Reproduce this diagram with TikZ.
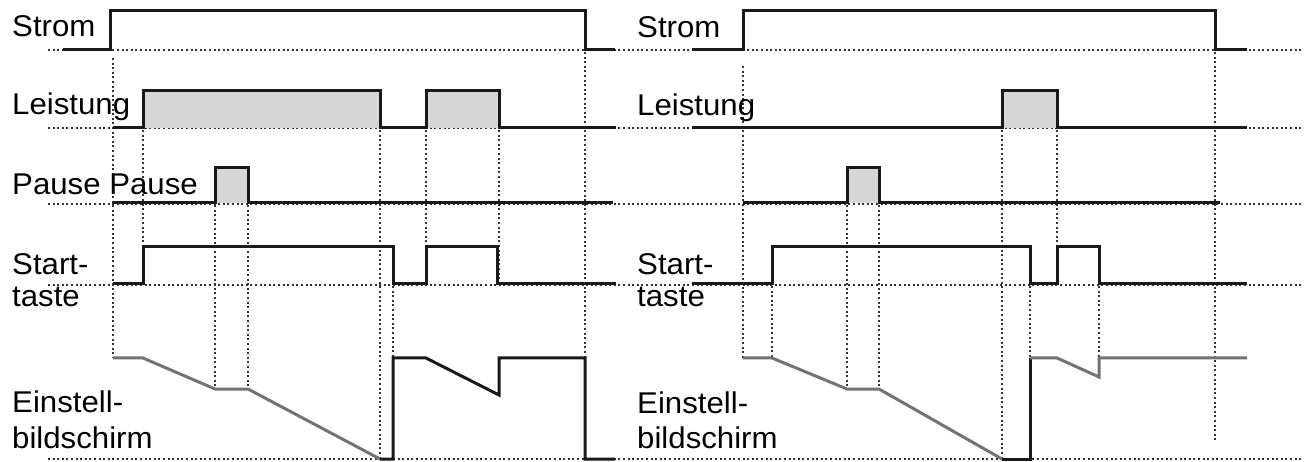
\documentclass[tikz,border=0pt]{standalone}
\usepackage{fontspec}
\setmainfont{Liberation Sans}[FakeStretch=1.04]
\begin{document}
\begin{tikzpicture}[x=1pt,y=-1pt,
  sig/.style={line width=3pt,black!90,line join=miter},
  gsig/.style={line width=3pt,black!55,line join=miter},
  grid/.style={line width=2.2pt,black!80,dash pattern=on 2pt off 2.6pt},
  pulse/.style={fill=black!16},
  lbl/.style={anchor=base west,inner sep=0pt,font=\fontsize{30}{32}\selectfont}]
\useasboundingbox[fill=white] (0,0) rectangle (1307,462);
% horizontal dotted baselines
\foreach \y in {50,128,204,285,459}
  \draw[grid] (48,\y) -- (1303,\y);
% fills
\fill[pulse] (143,128) rectangle (380,91);
\fill[pulse] (426,128) rectangle (499,91);
\fill[pulse] (215,203) rectangle (248,168);
\fill[pulse] (1002,128) rectangle (1057,91);
\fill[pulse] (847,203) rectangle (879,168);
% vertical dotted lines (left)
\draw[grid] (113,58) -- (113,358);
\draw[grid] (143,130) -- (143,284);
\draw[grid] (215,205) -- (215,389);
\draw[grid] (248,205) -- (248,389);
\draw[grid] (380,130) -- (380,459);
\draw[grid] (393,286) -- (393,358);
\draw[grid] (426,130) -- (426,247);
\draw[grid] (499,130) -- (499,284);
\draw[grid] (585,52) -- (585,358);
% vertical dotted lines (right)
\draw[grid] (743,66) -- (743,358);
\draw[grid] (772,286) -- (772,358);
\draw[grid] (847,205) -- (847,389);
\draw[grid] (879,205) -- (879,389);
\draw[grid] (1002,130) -- (1002,459);
\draw[grid] (1030,286) -- (1030,358);
\draw[grid] (1057,130) -- (1057,247);
\draw[grid] (1099,286) -- (1099,358);
\draw[grid] (1215,52) -- (1215,440);
% left signals
\draw[sig] (63,50) -- (110,50) -- (110,11) -- (585,11) -- (585,50) -- (615,50);
\draw[sig] (113,128) -- (143,128) -- (143,91) -- (380,91) -- (380,128) -- (426,128) -- (426,91) -- (499,91) -- (499,128) -- (616,128);
\draw[sig] (113,203) -- (215,203) -- (215,168) -- (248,168) -- (248,203) -- (613,203);
\draw[sig] (113,284) -- (143,284) -- (143,247) -- (393,247) -- (393,284) -- (426,284) -- (426,247) -- (497,247) -- (497,284) -- (616,284);
\draw[gsig] (113,358) -- (143,358) -- (215,389) -- (248,389) -- (380,459);
\draw[sig] (380,459) -- (393,459) -- (393,358) -- (426,358) -- (499,395) -- (499,358) -- (585,358) -- (585,459) -- (615,459);
% right signals
\draw[sig] (692,50) -- (743,50) -- (743,11) -- (1215,11) -- (1215,50) -- (1247,50);
\draw[sig] (692,128) -- (1002,128) -- (1002,91) -- (1057,91) -- (1057,128) -- (1247,128);
\draw[sig] (743,203) -- (847,203) -- (847,168) -- (879,168) -- (879,203) -- (1220,203);
\draw[sig] (692,284) -- (772,284) -- (772,247) -- (1030,247) -- (1030,284) -- (1057,284) -- (1057,247) -- (1099,247) -- (1099,284) -- (1247,284);
\draw[gsig] (743,358) -- (772,358) -- (847,389) -- (879,389) -- (1002,459);
\draw[sig] (1002,459) -- (1030,459) -- (1030,358);
\draw[gsig] (1030,358) -- (1057,358) -- (1099,377) -- (1099,358) -- (1247,358);
% labels left
\node[lbl] (stromL) at (12,37) {Strom};
\node[lbl] (leistL) at (12,115) {Leistung};
\node[lbl] (pauseL) at (12,195) {Pause Pause};
\node[lbl] (startL) at (12,275) {Start-};
\node[lbl] (tasteL) at (12,307) {taste};
\node[lbl] (einL) at (12,412) {Einstell-};
\node[lbl] (bildL) at (12,448) {bildschirm};
% labels right
\node[lbl] (stromR) at (637,38) {Strom};
\node[lbl] (leistR) at (637,116) {Leistung};
\node[lbl] (startR) at (637,275) {Start-};
\node[lbl] (tasteR) at (637,307) {taste};
\node[lbl] (einR) at (637,413) {Einstell-};
\node[lbl] (bildR) at (637,448) {bildschirm};
\end{tikzpicture}
\end{document}
